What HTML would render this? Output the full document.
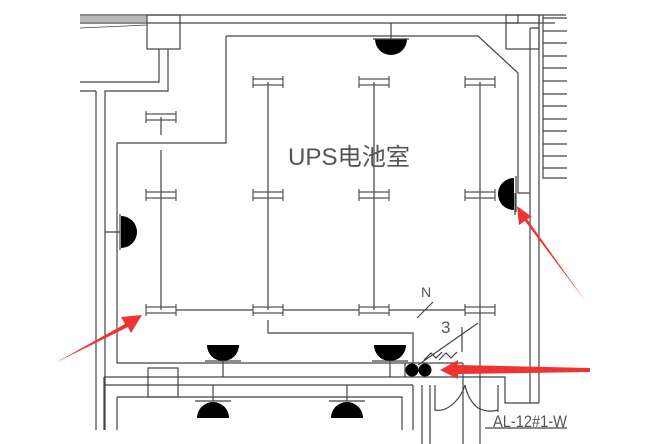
<!DOCTYPE html>
<html><head><meta charset="utf-8"><style>html,body{margin:0;padding:0;background:#fff}svg{display:block}</style></head><body>
<svg width="650" height="444" viewBox="0 0 650 444" xmlns="http://www.w3.org/2000/svg">
<defs>
<g id="fx"><path d="M-15,-3H15M-15,3H15M-15,-6V6M15,-6V6" stroke="#555" stroke-width="1.2" fill="none"/></g>
</defs>
<g stroke="#444" stroke-width="1.2" fill="none">
<path d="M80,15H566M80,23H555"/>
<path d="M80,17H147M80,19H147M80,21H147M80,28L147,25" stroke-width="0.8"/>
<rect x="147" y="15" width="33" height="34"/>
<path d="M159,49V82H80M168,49V91H105V430M96,91V430M80,91H96"/>
<path d="M226,36H478L518,73V193H530M226,36V143H117V363H405V377"/>
<rect x="506" y="15" width="33" height="34"/>
<path d="M506,23H518V15"/>
<path d="M530,28H539M530,28V403H539M539,15V403M543,15V178H567"/>
<path d="M543,18H567M543,31H567M543,43H567M543,56H567M543,68H567M543,81H567M543,94H567M543,106H567M543,119H567M543,131H567M543,144H567M543,156H567M543,168H567"/>
<path d="M161,117V135M161,150V310M268,82V310M374,82V310M480,82V444M176,310H253M283,310H359M389,310H465"/>
<path d="M268,320V333H413V363"/>
<path d="M417,318L433,302M462,327V352M418,365L478,323"/>
<path d="M391,23V39M515,193V215M120,232H105"/>
<path d="M104,377H505V403H530M104,385H413M117,397H402V430M117,397V430M413,385V430M422,385V444M430,385V444M463,363V444M405,363H463M104,377V430"/>
<rect x="148" y="368" width="30" height="29"/>
<path d="M223,361V377M390,361V377M213,385V401M347,385V401"/>
<path d="M435,385V410Q445,412 455,402Q462,395 465,385Q468,400 478,408Q488,413 498,410M498,385V412"/>
<path d="M424,360L431,353L436,358L442,352M439,360L446,353L451,358L457,352"/>
<path d="M485,428H567"/>
</g>
<g fill="#000">
<path d="M375,39H407A16,16 0 0 1 375,39Z"/>
<path d="M121,216V248A16,16 0 0 0 121,216Z"/>
<path d="M514,178V210A16,16 0 0 1 514,178Z"/>
<path d="M207,345H239A16,16 0 0 1 207,345Z"/>
<path d="M374,345H406A16,16 0 0 1 374,345Z"/>
<path d="M197,418H229A16,16 0 0 0 197,418Z"/>
<path d="M331,418H363A16,16 0 0 0 331,418Z"/>
<circle cx="412" cy="370" r="6.5"/><circle cx="425" cy="370" r="6.5"/>
</g>
<g stroke="#444" stroke-width="1.2"><path d="M120,214V250M516,176V212M205,361H241M372,361H408M195,401H231M329,401H365M373,39H409"/></g>
<g>
<use href="#fx" x="161" y="117"/>
<use href="#fx" x="268" y="82"/><use href="#fx" x="374" y="82"/><use href="#fx" x="480" y="82"/>
<use href="#fx" x="161" y="195"/><use href="#fx" x="268" y="195"/><use href="#fx" x="374" y="195"/><use href="#fx" x="480" y="195"/>
<use href="#fx" x="161" y="310"/><use href="#fx" x="268" y="310"/><use href="#fx" x="374" y="310"/><use href="#fx" x="480" y="310"/>
</g>
<g font-family="'Liberation Sans','Noto Sans CJK SC',sans-serif" fill="#555">
<text x="288" y="165" font-size="24" textLength="122" lengthAdjust="spacingAndGlyphs">UPS电池室</text>
<text x="421" y="297" font-size="14">N</text>
<text x="441" y="333" font-size="17">3</text>
<text x="493" y="427" font-size="17" textLength="74" lengthAdjust="spacingAndGlyphs">AL-12#1-W</text>
</g>
<g fill="#ee3333" stroke="none">
<path d="M55,363L125,324L121,317L142,315L131,333L128,327Z"/>
<path d="M586,302L525,221L519,225L517,206L532,217L527,219Z"/>
<path d="M590,368L458,365L458,360L440,370L458,379L458,374L590,372Z"/>
</g>
</svg>
</body></html>
